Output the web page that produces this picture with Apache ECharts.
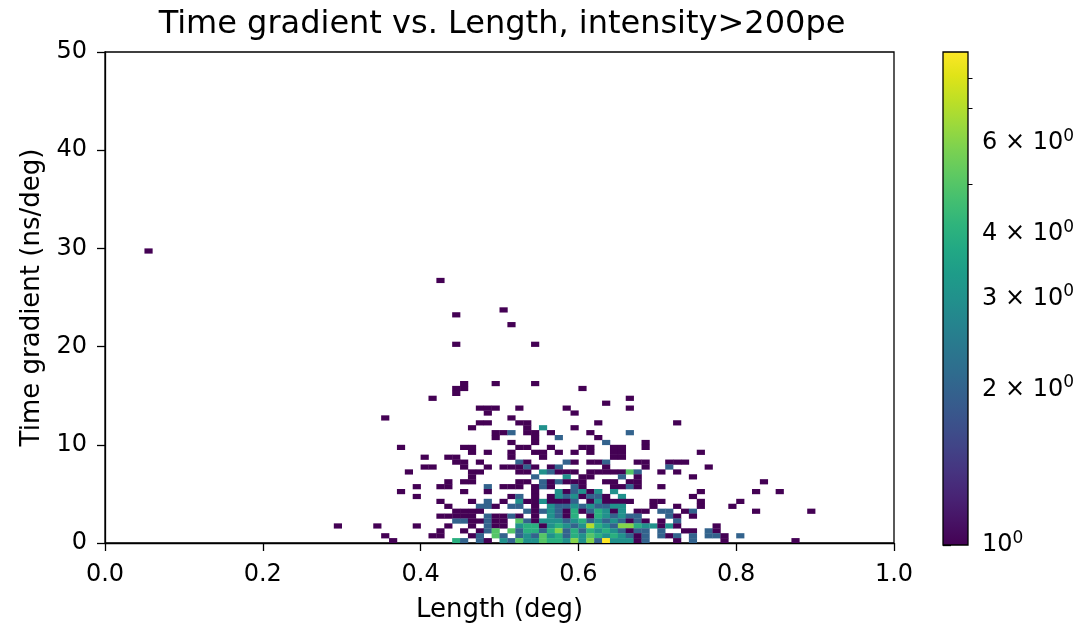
<!DOCTYPE html>
<html><head><meta charset="utf-8">
<script src="https://cdn.jsdelivr.net/npm/echarts@6/dist/echarts.min.js"></script>
<style>html,body{margin:0;padding:0;background:#fff}#c{width:1085px;height:628px}</style>
</head><body><div id="c"></div>
<script>
// ---- data -------------------------------------------------------------
const titleText = 'Time gradient vs. Length, intensity>200pe';
const xLabel = 'Length (deg)';
const yLabel = 'Time gradient (ns/deg)';
const binWidthX = 0.01;   // deg
const binWidthY = 0.5;    // ns/deg
const xRange = [0, 1];
const yRange = [0, 50];
const cbarMax = 9;        // colour-scale maximum (log norm, min 1)
const cbarMajorTicks = [1, 2, 3, 4, 6];
const cbarMinorTicks = [5, 7, 8];
// [x bin index, y bin index, count]
const cells = [
  [5,59,1],[42,53,1],[44,46,1],[50,47,1],[51,44,1],[44,40,1],[54,40,1],
  // x 0.28-0.45
  [44,31,1],[44,30,1],[41,29,1],[35,25,1],[37,19,1],[40,17,1],[43,17,1],[44,17,1],[44,16,1],
  [38,14,1],[40,15,1],[41,15,1],[43,12,1],[39,11,1],[42,11,1],[43,11,1],[37,10,1],[39,9,1],
  [42,8,1],[43,7,1],[44,6,1],[42,5,1],[43,5,1],[44,5,1],[44,4,2],[29,3,1],[34,3,1],[39,3,1],
  [43,3,1],[42,2,1],[35,1,1],[41,1,1],[42,1,1],[36,0,1],[44,0,4],
  // x 0.45-0.56
  [45,32,1],[49,32,1],[54,32,1],[45,31,1],
  [47,27,1],[48,27,1],[49,27,1],[52,27,1],[48,26,1],[51,25,1],
  [47,24,1],[48,24,1],[52,24,1],[53,24,1],[46,23,1],[53,23,1],[55,23,3],
  [49,22,1],[50,22,1],[51,22,2],[53,22,1],[54,22,1],[49,21,1],[54,21,1],[51,20,1],[54,20,1],
  [45,19,1],[46,19,1],[52,19,1],[53,19,1],[46,18,1],[48,18,1],[51,18,1],[54,18,1],[55,18,1],
  [51,17,1],[55,17,1],[45,16,1],[47,16,1],[52,16,2],[53,16,1],
  [45,15,1],[48,15,1],[50,15,1],[51,15,1],[52,15,1],[53,15,2],[54,15,1],
  [46,14,1],[47,14,1],[52,14,1],[53,14,1],[55,14,3],[46,13,1],[54,13,2],
  [45,12,1],[46,12,1],[52,12,1],[53,12,1],[55,12,2],
  [48,11,2],[50,11,1],[51,11,1],[52,11,1],[54,11,1],[55,11,2],
  [45,10,1],[48,10,1],[54,10,1],[51,9,1],[52,9,2],[54,9,1],
  [46,8,1],[48,8,2],[50,8,1],[52,8,3],[53,8,1],[54,8,1],[55,8,3],
  [47,7,2],[48,7,2],[49,7,1],[51,7,2],[52,7,2],[54,7,1],
  [45,6,1],[46,6,1],[47,6,1],[53,6,2],[54,6,1],[55,6,2],
  [45,5,1],[46,5,1],[48,5,2],[49,5,1],[50,5,1],[51,5,2],[52,5,1],[54,5,1],
  [45,4,2],[46,4,1],[47,4,1],[48,4,2],[49,4,1],[50,4,1],[52,4,5],[53,4,2],[54,4,1],[55,4,3],
  [46,3,1],[48,3,2],[49,3,1],[50,3,1],[52,3,3],[53,3,4],[54,3,4],[55,3,1],
  [45,2,1],[47,2,1],[48,2,2],[49,2,5],[51,2,5],[52,2,2],[53,2,4],[54,2,4],[55,2,2],
  [46,1,1],[47,1,2],[49,1,5],[50,1,2],[52,1,2],[53,1,3],[54,1,2],[55,1,5],
  [45,0,2],[47,0,2],[48,0,1],[50,0,3],[51,0,2],[52,0,5],[53,0,3],[54,0,3],[55,0,5],
  // x 0.56-0.67
  [60,31,1],[66,29,1],[63,28,1],[58,27,1],[66,27,1],[59,26,1],[62,24,1],[59,23,1],
  [56,22,1],[61,22,1],[66,22,2],[57,21,2],[62,21,1],[63,20,2],
  [56,19,1],[60,19,1],[61,19,1],[64,19,1],[65,19,1],
  [57,18,1],[59,18,1],[61,18,1],[64,18,1],[65,18,1],[64,17,1],[65,17,1],
  [58,16,2],[59,16,1],[61,16,1],[62,16,1],[63,16,2],[56,15,1],[57,15,2],[63,15,1],
  [56,14,2],[57,14,1],[58,14,1],[59,14,1],[61,14,1],[62,14,1],[63,14,1],[64,14,1],[65,14,1],[66,14,5],
  [58,13,3],[60,13,1],[61,13,1],[65,13,2],
  [56,12,1],[57,12,2],[58,12,1],[59,12,1],[60,12,1],[63,12,1],[64,12,1],[66,12,1],
  [56,11,1],[59,11,2],[60,11,1],[64,11,1],[65,11,1],[66,11,2],
  [57,10,3],[58,10,1],[59,10,2],[60,10,3],[61,10,1],[62,10,3],[64,10,3],
  [56,9,1],[57,9,3],[58,9,2],[59,9,3],[60,9,1],[61,9,2],[62,9,2],[63,9,1],[65,9,3],
  [56,8,1],[57,8,1],[58,8,1],[59,8,2],[61,8,1],[62,8,3],[63,8,1],[64,8,1],[65,8,1],[66,8,1],
  [56,7,3],[57,7,2],[58,7,2],[59,7,3],[60,7,2],[61,7,3],[62,7,2],[63,7,2],[64,7,3],[65,7,3],
  [56,6,3],[57,6,2],[58,6,1],[59,6,4],[60,6,1],[61,6,2],[62,6,4],[63,6,3],[64,6,1],[65,6,3],
  [56,5,3],[57,5,2],[58,5,1],[59,5,4],[61,5,1],[62,5,4],[63,5,3],[64,5,2],[65,5,3],[66,5,2],
  [56,4,3],[57,4,3],[58,4,2],[59,4,3],[60,4,4],[61,4,2],[62,4,3],[63,4,2],[64,4,3],[65,4,2],[66,4,1],
  [56,3,3],[57,3,4],[58,3,3],[59,3,2],[60,3,3],[61,3,7],[62,3,4],[63,3,3],[64,3,2],[65,3,6],[66,3,6],
  [56,2,4],[57,2,6],[58,2,2],[59,2,4],[60,2,2],[61,2,4],[62,2,3],[63,2,4],[64,2,3],[65,2,2],[66,2,1],
  [56,1,3],[57,1,4],[58,1,2],[59,1,4],[60,1,3],[61,1,5],[62,1,4],[63,1,3],[64,1,4],[65,1,3],[66,1,2],
  [56,0,4],[57,0,4],[58,0,3],[59,0,6],[60,0,3],[61,0,6],[62,0,2],[63,0,9],[64,0,3],[65,0,3],[66,0,3],
  // x 0.67-0.78
  [72,24,1],[68,20,1],[68,19,1],[75,18,1],[67,16,1],[68,16,1],[71,16,1],[72,16,1],[73,16,1],
  [68,15,1],[71,15,2],[76,15,1],[67,14,2],[70,14,1],[72,14,1],[74,13,1],[67,13,1],[67,12,1],
  [67,11,1],[70,11,1],[75,10,1],[74,9,1],[69,8,1],[70,8,1],[75,8,1],[69,7,1],[72,7,1],[75,7,1],
  [67,6,1],[68,6,1],[70,6,2],[71,6,2],[73,6,1],[74,6,2],[67,5,2],[71,5,2],[72,5,1],[74,5,1],
  [67,4,2],[68,4,1],[70,4,1],[72,4,2],[67,3,4],[68,3,3],[69,3,3],[70,3,1],[71,3,3],[72,3,1],[77,3,1],
  [67,2,2],[68,2,2],[70,2,2],[73,2,1],[74,2,1],[76,2,2],[77,2,1],
  [67,1,1],[68,1,2],[70,1,2],[71,1,1],[72,1,2],[74,1,2],[76,1,2],[77,1,2],
  [67,0,1],[68,0,2],[72,0,1],[74,0,2],
  // x 0.78-0.90
  [83,12,1],[82,10,1],[85,10,1],[80,8,1],[79,7,1],[82,6,1],[89,6,1],[78,1,1],[80,1,2],[78,0,1],[87,0,1]
];
// ---- chart ------------------------------------------------------------
const viridis = ['#440154','#471365','#482475','#463480','#414487','#3b528b','#355f8d','#2f6c8e',
  '#2a788e','#25848e','#21918c','#1e9c89','#22a884','#2fb47c','#44bf70','#5ec962','#7ad151',
  '#9bd93c','#bddf26','#dfe318','#fde725'];
const FONT = 'DejaVu Sans';
const logMax = Math.log10(cbarMax);
const heatData = cells.map(([i, j, n]) => [i * binWidthX, j * binWidthY, n, Math.log10(n)]);

const chart = echarts.init(document.getElementById('c'), null, {renderer: 'canvas'});
const tick = {fontFamily: FONT, fontSize: 24, color: '#000'};
const nameTxt = {fontFamily: FONT, fontSize: 26, color: '#000'};
chart.setOption({
  animation: false,
  backgroundColor: '#fff',
  title: {text: titleText, left: 497, textAlign: 'center', top: 4,
    textStyle: {fontFamily: FONT, fontSize: 32, fontWeight: 'normal', color: '#000'}},
  grid: [
    {left: 105, top: 52, width: 789, height: 493, show: true, borderColor: '#000', borderWidth: 1.3, backgroundColor: 'transparent'},
    {left: 943, top: 52, width: 25, height: 493}
  ],
  xAxis: [
    {gridIndex: 0, type: 'value', min: xRange[0], max: xRange[1], interval: 0.2,
      name: xLabel, nameLocation: 'middle', nameGap: 54, nameTextStyle: nameTxt,
      axisLine: {onZero: false, lineStyle: {color: '#000', width: 1.3}},
      axisTick: {show: true, length: 8, lineStyle: {color: '#000', width: 1.3}},
      axisLabel: Object.assign({margin: 20, formatter: v => v.toFixed(1)}, tick),
      splitLine: {show: false}},
    {gridIndex: 1, type: 'value', min: 0, max: 1, show: false}
  ],
  yAxis: [
    {gridIndex: 0, type: 'value', min: yRange[0], max: yRange[1], interval: 10,
      name: yLabel, nameLocation: 'middle', nameGap: 59, nameTextStyle: nameTxt,
      axisLine: {onZero: false, lineStyle: {color: '#000', width: 1.3}},
      axisTick: {show: true, length: 8, lineStyle: {color: '#000', width: 1.3}},
      axisLabel: Object.assign({margin: 18}, tick),
      splitLine: {show: false}},
    {gridIndex: 1, type: 'value', min: 0, max: logMax, position: 'right',
      axisLine: {show: false},
      axisTick: {show: true, length: 8, customValues: cbarMajorTicks.map(Math.log10), lineStyle: {color: '#000', width: 1.3}},
      axisLabel: {show: true, margin: 14, customValues: cbarMajorTicks.map(Math.log10),
        formatter: v => { const k = Math.round(Math.pow(10, v)); return k === 1 ? '{m|10}{s|0}' : '{m|' + k + ' × 10}{s|0}'; },
        rich: {m: {fontFamily: FONT, fontSize: 24, color: '#000', lineHeight: 30},
               s: {fontFamily: FONT, fontSize: 17, color: '#000', lineHeight: 30, verticalAlign: 'top'}}},
      splitLine: {show: false}},
    {gridIndex: 1, type: 'value', min: 0, max: logMax, position: 'right',
      axisLine: {show: false},
      axisTick: {show: true, length: 4.5, customValues: cbarMinorTicks.map(Math.log10), lineStyle: {color: '#000', width: 1}},
      axisLabel: {show: false}, splitLine: {show: false}}
  ],
  visualMap: {type: 'continuous', show: false, seriesIndex: 0, dimension: 3, min: 0, max: logMax, inRange: {color: viridis}},
  series: [
    {type: 'custom', xAxisIndex: 0, yAxisIndex: 0, data: heatData, encode: {x: 0, y: 1}, clip: true,
      renderItem(params, api) {
        const x0 = api.value(0), y0 = api.value(1);
        const p0 = api.coord([x0, y0]);
        const p1 = api.coord([x0 + binWidthX, y0 + binWidthY]);
        return {type: 'rect', shape: {x: p0[0], y: p1[1], width: p1[0] - p0[0] + 0.3, height: p0[1] - p1[1] + 0.3},
          style: {fill: api.visual('color')}};
      }},
    {type: 'custom', xAxisIndex: 1, yAxisIndex: 1, data: [[0, 0]], silent: true,
      renderItem(params, api) {
        const a = api.coord([0, 0]);
        const b = api.coord([1, logMax]);
        return {type: 'rect', shape: {x: a[0], y: b[1], width: b[0] - a[0], height: a[1] - b[1]},
          style: {fill: {type: 'linear', x: 0, y: 1, x2: 0, y2: 0,
            colorStops: viridis.map((c, i) => ({offset: i / (viridis.length - 1), color: c}))},
            stroke: '#000', lineWidth: 1.3}};
      }}
  ]
});
</script></body></html>
